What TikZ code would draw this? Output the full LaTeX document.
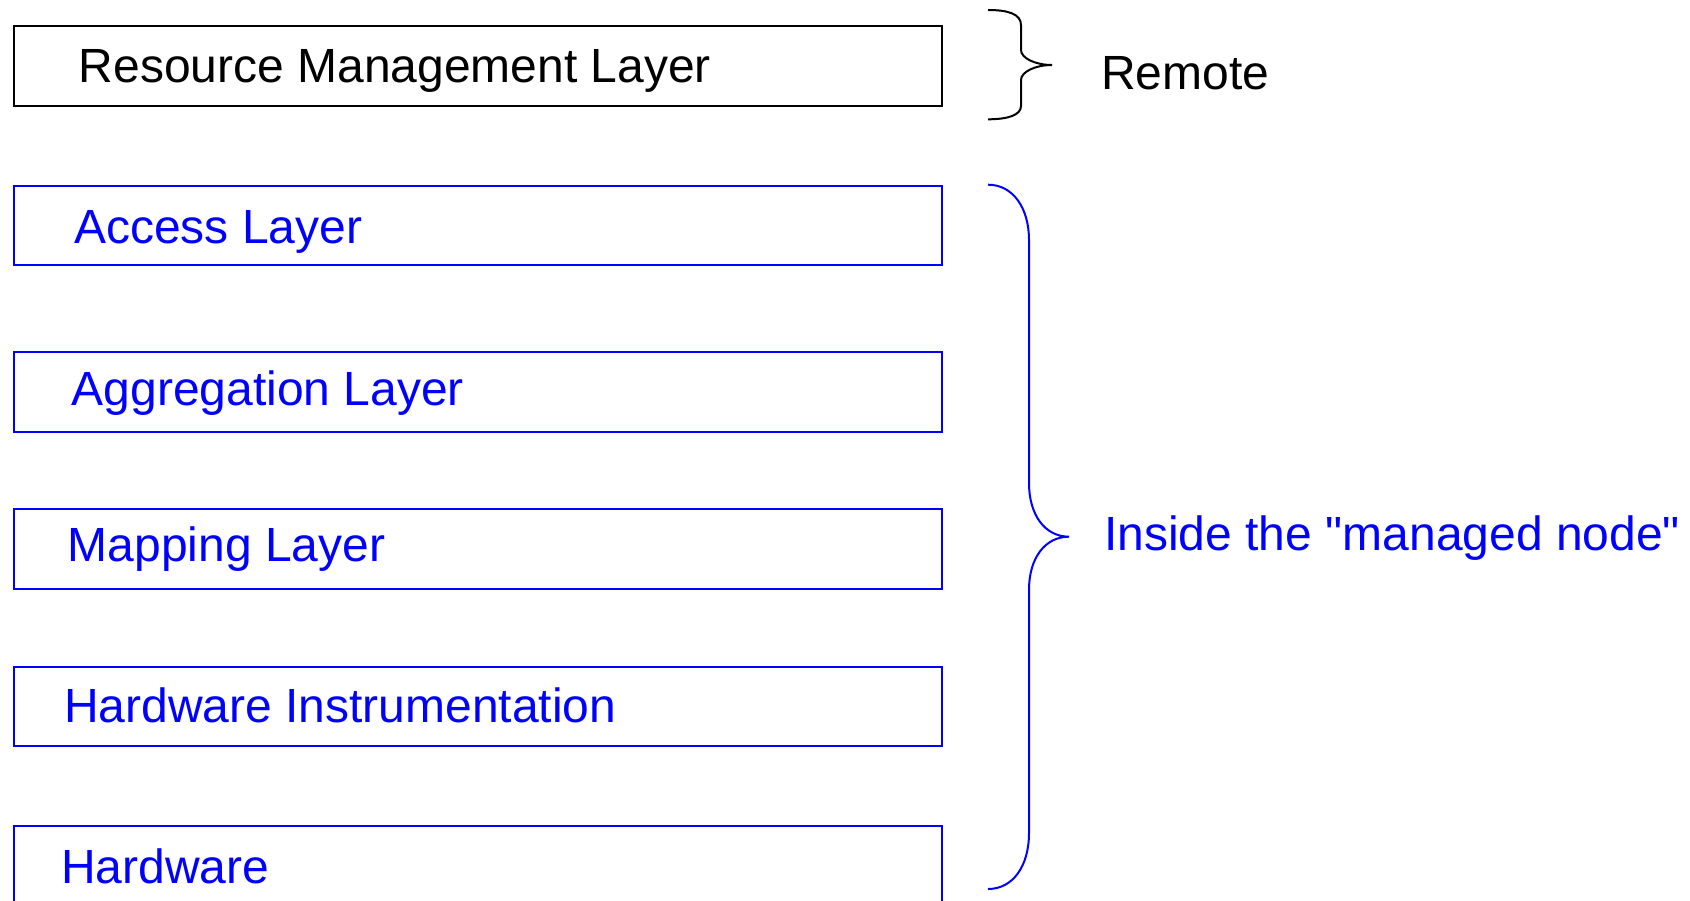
\documentclass[tikz,border=0pt]{standalone}
\usepackage{fontspec}
\setmainfont{Liberation Sans}
\definecolor{pureblue}{RGB}{0,0,255}
\begin{document}
\begin{tikzpicture}[x=1pt,y=-1pt,
  layerbox/.style={draw, line width=2pt, anchor=north west, minimum width=928pt, inner sep=0pt},
  bluebox/.style={layerbox, draw=pureblue},
  lbl/.style={anchor=base west, inner sep=0pt, font=\fontsize{48}{58}\selectfont},
  bluelbl/.style={lbl, text=pureblue},
  brace/.style={line width=2pt}
]
\path[use as bounding box, clip] (0,0) rectangle (1690,901);
\fill[white] (0,0) rectangle (1690,901);

% boxes
\node[layerbox, minimum height=80pt] (res) at (13,25) {};
\node[bluebox, minimum height=79.3pt] (acc) at (13,185) {};
\node[bluebox, minimum height=80pt] (agg) at (13,350.7) {};
\node[bluebox, minimum height=79.4pt] (map) at (13,508.3) {};
\node[bluebox, minimum height=79pt] (hwi) at (13,666) {};
\node[bluebox, minimum height=90pt] (hw) at (13,824.7) {};

% labels
\node[lbl] (resl) at (78.5,82.7) {Resource Management Layer};
\node[bluelbl] (accl) at (74,244) {Access Layer};
\node[bluelbl] (aggl) at (71.5,405) {Aggregation Layer};
\node[bluelbl] (mapl) at (67.5,561.7) {Mapping Layer};
\node[bluelbl] (hwil) at (64,722) {Hardware Instrumentation};
\node[bluelbl] (hwl) at (61,883.3) {Hardware};
\node[lbl] (remote) at (1101,89.3) {Remote};
\node[bluelbl] (inside) at (1104,550) {Inside the \textquotedbl managed node\textquotedbl};

% braces
\draw[brace] (988,10) .. controls (1008,10) and (1021,14) .. (1021,25)
  -- (1021,50) .. controls (1021,58) and (1035,65) .. (1052,65)
  .. controls (1035,65) and (1021,72) .. (1021,80)
  -- (1021,106) .. controls (1021,115) and (1008,119.3) .. (988,119.3);
\draw[brace, pureblue] (988,184.7) .. controls (1013,184.7) and (1029,208) .. (1029,240)
  -- (1029,483) .. controls (1029,515) and (1045,536.7) .. (1069,536.7)
  .. controls (1045,536.7) and (1029,558) .. (1029,590)
  -- (1029,833) .. controls (1029,866) and (1013,889) .. (988,889);
\end{tikzpicture}
\end{document}
